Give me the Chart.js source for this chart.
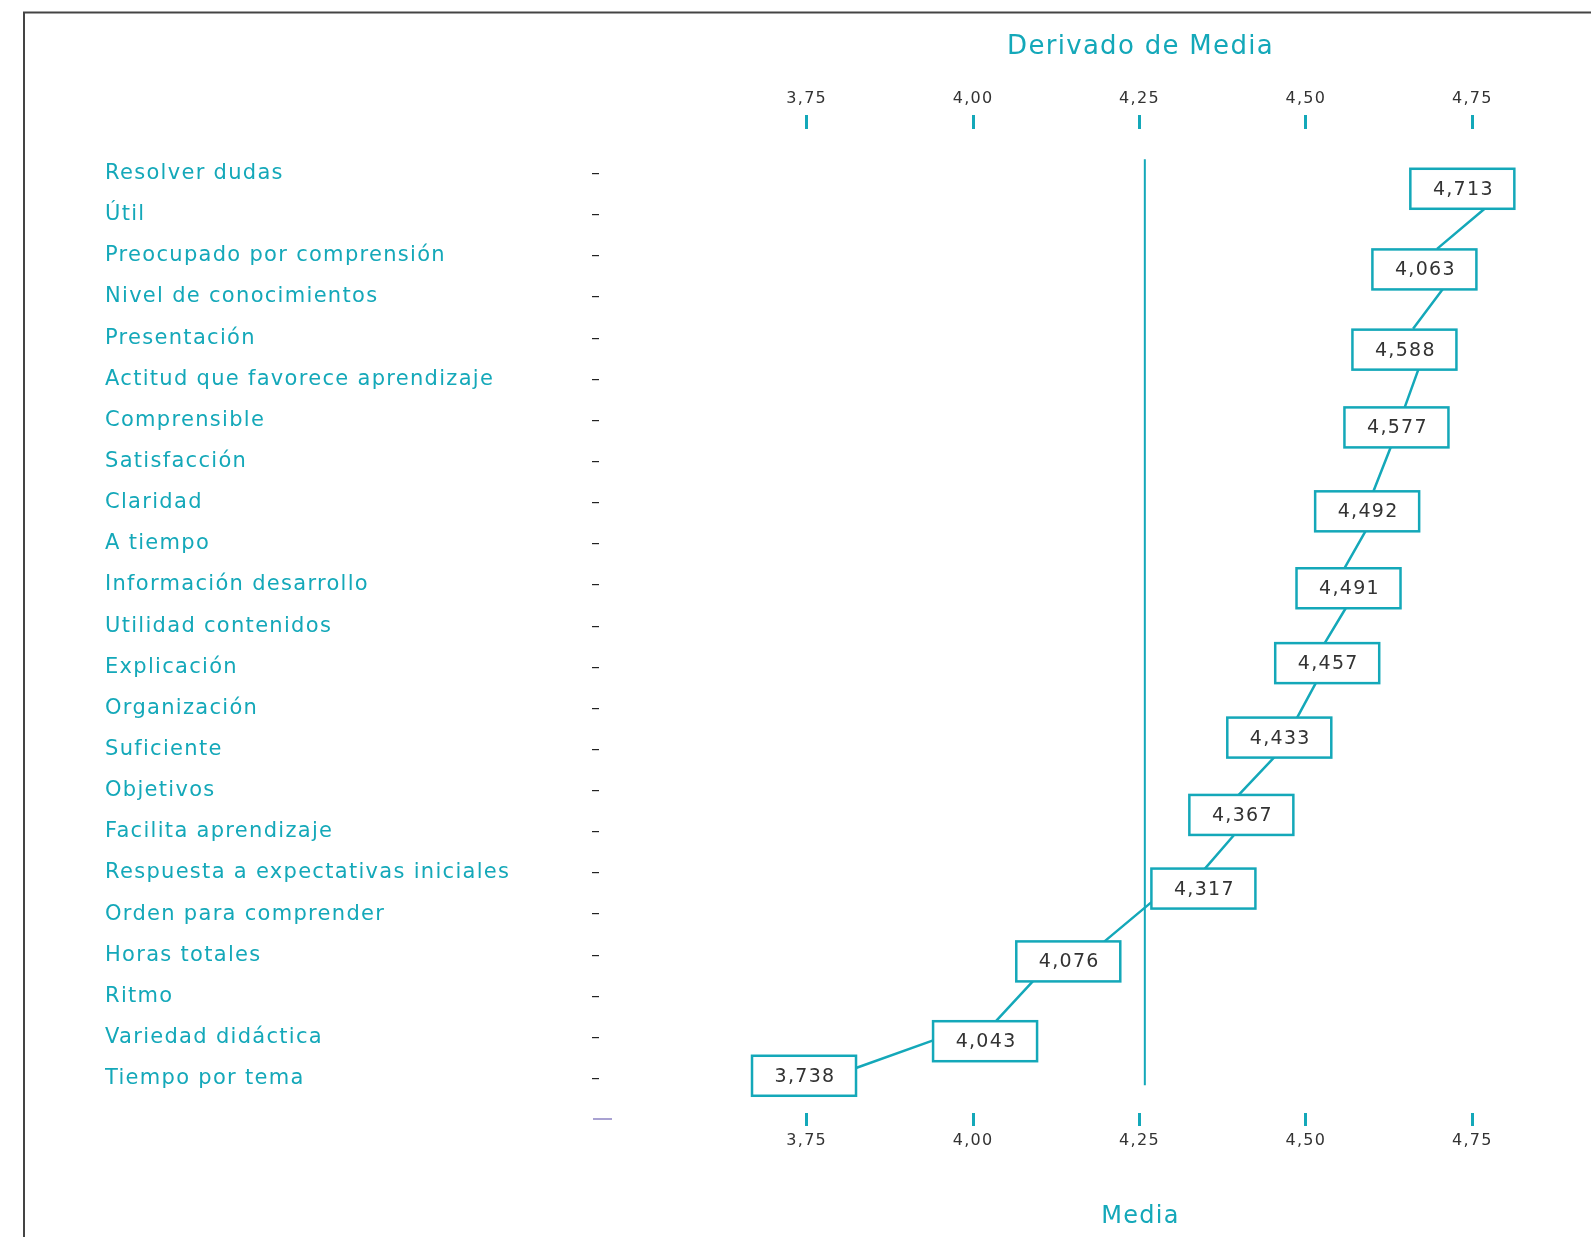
<!DOCTYPE html>
<html>
<head>
<meta charset="utf-8">
<title>Derivado de Media</title>
<script src="https://cdn.jsdelivr.net/npm/chart.js@4.4.1/dist/chart.umd.min.js"></script>
<style>
  html, body { margin: 0; padding: 0; overflow: hidden; background: #fff; }
  #wrap { width: 1700px; height: 1237px; }
</style>
</head>
<body>
<div id="wrap"><canvas id="myChart" width="1700" height="1237"></canvas></div>
<script>
// categories, top to bottom (row 0 = first)
var categories = ["Resolver dudas", "Útil", "Preocupado por comprensión", "Nivel de conocimientos",
  "Presentación", "Actitud que favorece aprendizaje", "Comprensible", "Satisfacción", "Claridad",
  "A tiempo", "Información desarrollo", "Utilidad contenidos", "Explicación", "Organización",
  "Suficiente", "Objetivos", "Facilita aprendizaje", "Respuesta a expectativas iniciales",
  "Orden para comprender", "Horas totales", "Ritmo", "Variedad didáctica", "Tiempo por tema"];

// value boxes: printed label, position on the Media axis, position in rows
var boxLabels = ["4,713", "4,063", "4,588", "4,577", "4,492", "4,491", "4,457", "4,433", "4,367", "4,317", "4,076", "4,043", "3,738"];
var boxX = [4.735, 4.678, 4.648, 4.636, 4.592, 4.564, 4.532, 4.460, 4.403, 4.346, 4.143, 4.018, 3.746];
var boxRow = [0.37, 2.33, 4.28, 6.17, 8.21, 10.08, 11.90, 13.71, 15.59, 17.38, 19.15, 21.09, 21.93];

// connector pieces between boxes
var segX1 = [4.768, 4.706, 4.669, 4.628, 4.590, 4.560, 4.515, 4.453, 4.393, 4.268, 4.090, 3.940];
var segRow1 = [0.86, 2.80, 4.76, 6.63, 8.68, 10.56, 12.38, 14.18, 16.06, 17.71, 19.63, 21.07];
var segX2 = [4.697, 4.661, 4.648, 4.601, 4.558, 4.528, 4.486, 4.398, 4.348, 4.197, 4.034, 3.824];
var segRow2 = [1.83, 3.77, 5.70, 7.74, 9.59, 11.42, 13.25, 15.12, 16.90, 18.67, 20.61, 21.74];

// reference line
var refValue = 4.258;
var refRows = [-0.35, 22.16];

var xTicks = [3.75, 4.00, 4.25, 4.50, 4.75];

var teal = '#14a8b9';
var textDark = '#333333';

var segData = [];
for (var i = 0; i < segX1.length; i++) {
  segData.push({x: segX1[i], y: segRow1[i]});
  segData.push({x: segX2[i], y: segRow2[i]});
  segData.push({x: null, y: null});
}
var boxData = boxX.map(function (v, i) { return {x: v, y: boxRow[i]}; });
var refData = refRows.map(function (r) { return {x: refValue, y: r}; });

function fmtTick(v) { return v.toFixed(2).replace('.', ','); }

var framePlugin = {
  id: 'frame',
  beforeDraw: function (chart) {
    var ctx = chart.ctx;
    ctx.letterSpacing = '1.3px';
    ctx.save();
    ctx.strokeStyle = '#444';
    ctx.lineWidth = 2;
    ctx.beginPath();
    ctx.moveTo(24, chart.height);
    ctx.lineTo(24, 12.5);
    ctx.lineTo(chart.width, 12.5);
    ctx.stroke();
    ctx.restore();
  },
  afterDraw: function (chart) {
    var ctx = chart.ctx, a = chart.chartArea;
    ctx.save();
    ctx.strokeStyle = '#a9a2d2';
    ctx.lineWidth = 2;
    ctx.beginPath();
    ctx.moveTo(a.left - 6, a.bottom + 6);
    ctx.lineTo(a.left + 13, a.bottom + 6);
    ctx.stroke();
    ctx.restore();
  }
};

var boxPlugin = {
  id: 'boxes',
  afterDatasetsDraw: function (chart) {
    var ctx = chart.ctx;
    var meta = chart.getDatasetMeta(2);
    ctx.save();
    ctx.font = '19px "DejaVu Sans"';
    ctx.textAlign = 'center';
    ctx.textBaseline = 'middle';
    meta.data.forEach(function (pt, i) {
      var w = 104, h = 40;
      ctx.fillStyle = '#fff';
      ctx.fillRect(pt.x - w / 2, pt.y - h / 2, w, h);
      ctx.strokeStyle = teal;
      ctx.lineWidth = 2.5;
      ctx.strokeRect(pt.x - w / 2, pt.y - h / 2, w, h);
      ctx.fillStyle = textDark;
      ctx.fillText(boxLabels[i], pt.x + 1, pt.y + 1);
    });
    ctx.restore();
  }
};

var ctx = document.getElementById('myChart').getContext('2d');

var myChart = new Chart(ctx, {
  type: 'line',
  data: {
    datasets: [
      {data: segData, borderColor: teal, borderWidth: 2.5, pointRadius: 0, spanGaps: false, xAxisID: 'x', yAxisID: 'y'},
      {data: refData, borderColor: teal, borderWidth: 2, pointRadius: 0, xAxisID: 'x', yAxisID: 'y'},
      {data: boxData, showLine: false, pointRadius: 0, xAxisID: 'x', yAxisID: 'y'}
    ]
  },
  options: {
    responsive: false,
    animation: false,
    layout: {padding: {left: 105, right: 18, top: 0, bottom: 0}},
    plugins: {
      legend: {display: false},
      tooltip: {enabled: false}
    },
    scales: {
      x: {
        type: 'linear',
        position: 'top',
        min: 3.438,
        max: 5.065,
        afterBuildTicks: function (s) { s.ticks = xTicks.map(function (v) { return {value: v}; }); },
        afterFit: function (s) { s.height = 129; },
        ticks: {callback: fmtTick, color: textDark, font: {family: 'DejaVu Sans', size: 16}, padding: 7, maxRotation: 0},
        grid: {drawOnChartArea: false, drawTicks: true, tickLength: 14, color: teal, lineWidth: 3},
        border: {display: false},
        title: {display: true, text: 'Derivado de Media', color: teal, font: {family: 'DejaVu Sans', size: 26}, padding: {top: 32, bottom: 0}}
      },
      x2: {
        type: 'linear',
        position: 'bottom',
        min: 3.438,
        max: 5.065,
        afterBuildTicks: function (s) { s.ticks = xTicks.map(function (v) { return {value: v}; }); },
        afterFit: function (s) { s.height = 124; },
        ticks: {callback: fmtTick, color: textDark, font: {family: 'DejaVu Sans', size: 16}, padding: 5, maxRotation: 0},
        grid: {drawOnChartArea: false, drawTicks: true, tickLength: 13, color: teal, lineWidth: 3},
        border: {display: false},
        title: {display: true, text: 'Media', color: teal, font: {family: 'DejaVu Sans', size: 24}, padding: {top: 0, bottom: 6}}
      },
      y: {
        type: 'linear',
        position: 'left',
        reverse: true,
        min: -1.083,
        max: 22.835,
        afterBuildTicks: function (s) { s.ticks = categories.map(function (c, i) { return {value: i}; }); },
        afterFit: function (s) { s.width = 494; },
        ticks: {
          callback: function (v) { return categories[v]; },
          autoSkip: false,
          crossAlign: 'far',
          color: teal,
          font: {family: 'DejaVu Sans', size: 21}
        },
        grid: {drawOnChartArea: false, drawTicks: true, tickLength: 7, color: '#222', lineWidth: 1.2},
        border: {display: false}
      }
    }
  },
  plugins: [framePlugin, boxPlugin]
});
</script>
</body>
</html>
